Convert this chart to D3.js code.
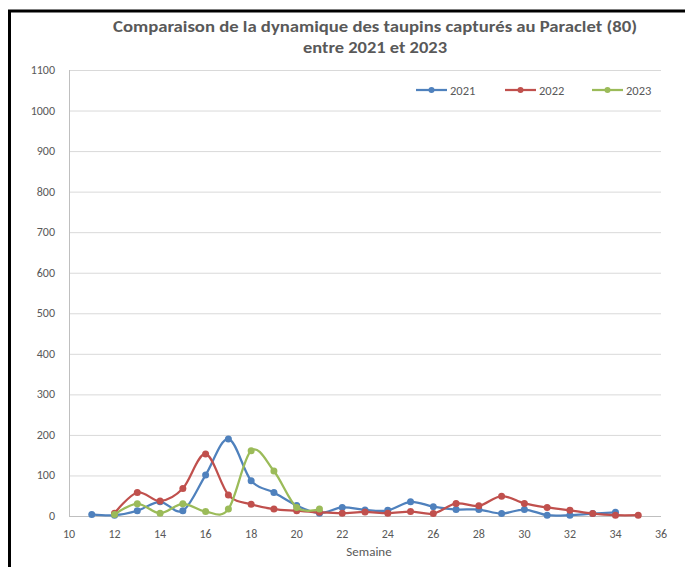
<!DOCTYPE html>
<html><head><meta charset="utf-8">
<script src="https://cdn.jsdelivr.net/npm/d3@7"></script>
<style>body{margin:0;background:#fff}svg{display:block}</style>
</head><body>
<svg id="c" width="685" height="567"></svg>
<script>
const titleLines = ["Comparaison de la dynamique des taupins capturés au Paraclet (80)", "entre 2021 et 2023"];
const xLabel = "Semaine";
const seriesNames = ["2021", "2022", "2023"];
const colors = ["#4F81BD", "#C0504D", "#9BBB59"];
const weeks2021 = [11,12,13,14,15,16,17,18,19,20,21,22,23,24,25,26,27,28,29,30,31,32,33,34];
const values2021 = [4,2,13,35,13,101,190,87,58,26,7,21,15,14,35,23,16,16,6,16,2,2,6,9];
const weeks2022 = [12,13,14,15,16,17,18,19,20,21,22,23,24,25,26,27,28,29,30,31,32,33,34,35];
const values2022 = [7,58,37,68,153,52,29,17,13,9,7,10,7,11,6,31,25,49,31,21,14,6,2,2];
const weeks2023 = [12,13,14,15,16,17,18,19,20,21];
const values2023 = [4,30,7,30,11,17,161,111,21,17];
const xTicks = [10,12,14,16,18,20,22,24,26,28,30,32,34,36];
const yTicks = [0,100,200,300,400,500,600,700,800,900,1000,1100];

const series = [
  {name: seriesNames[0], color: colors[0], pts: weeks2021.map((w,i)=>[w, values2021[i]])},
  {name: seriesNames[1], color: colors[1], pts: weeks2022.map((w,i)=>[w, values2022[i]])},
  {name: seriesNames[2], color: colors[2], pts: weeks2023.map((w,i)=>[w, values2023[i]])}
];

const svg = d3.select("#c");
const font = "Calibri, Carlito, 'Open Sans', sans-serif";
const textCol = "#595959";

// frame
svg.append("path").attr("d","M9.5,567 L9.5,11 L685,11").attr("fill","none").attr("stroke","#000").attr("stroke-width",3);

const x = d3.scaleLinear().domain([10,36]).range([69,661]);
const y = d3.scaleLinear().domain([0,1100]).range([516,70]);

// gridlines
svg.append("g").selectAll("line").data(yTicks.filter(d=>d>0)).join("line")
  .attr("x1",69).attr("x2",661).attr("y1",d=>y(d)+0.5).attr("y2",d=>y(d)+0.5)
  .attr("stroke","#d9d9d9").attr("stroke-width",1);

// axes lines
svg.append("line").attr("x1",69.5).attr("x2",69.5).attr("y1",70).attr("y2",516).attr("stroke","#bfbfbf");
svg.append("line").attr("x1",69).attr("x2",661).attr("y1",516.5).attr("y2",516.5).attr("stroke","#bfbfbf");

// y tick labels
svg.append("g").selectAll("text").data(yTicks).join("text")
  .attr("x",55).attr("y",d=>y(d)+4).attr("text-anchor","end")
  .attr("font-family",font).attr("font-size",12).attr("fill",textCol).text(d=>d);

// x tick labels
svg.append("g").selectAll("text").data(xTicks).join("text")
  .attr("x",d=>x(d)).attr("y",538).attr("text-anchor","middle")
  .attr("font-family",font).attr("font-size",12).attr("fill",textCol).text(d=>d);

svg.append("text").attr("x",369).attr("y",556).attr("text-anchor","middle")
  .attr("font-family",font).attr("font-size",13).attr("fill",textCol).text(xLabel);

// title
svg.append("text").attr("x",375).attr("y",32).attr("text-anchor","middle")
  .attr("font-family",font).attr("font-size",16).attr("font-weight","bold").attr("fill",textCol)
  .attr("textLength",524).attr("lengthAdjust","spacingAndGlyphs").text(titleLines[0]);
svg.append("text").attr("x",375).attr("y",53).attr("text-anchor","middle")
  .attr("font-family",font).attr("font-size",16).attr("font-weight","bold").attr("fill",textCol)
  .attr("textLength",144).attr("lengthAdjust","spacingAndGlyphs").text(titleLines[1]);

// lines
const line = d3.line().x(d=>x(d[0])).y(d=>y(d[1])).curve(d3.curveCardinal.tension(0));
const g = svg.append("g");
series.forEach(s=>{
  g.append("path").datum(s.pts).attr("d",line).attr("fill","none")
    .attr("stroke",s.color).attr("stroke-width",2.25).attr("stroke-linejoin","round");
  g.append("g").selectAll("circle").data(s.pts).join("circle")
    .attr("cx",d=>x(d[0])).attr("cy",d=>y(d[1])).attr("r",3.5).attr("fill",s.color);
});

// legend
const legX = [416, 505, 592];
series.forEach((s,i)=>{
  const lg = svg.append("g");
  lg.append("line").attr("x1",legX[i]).attr("x2",legX[i]+31).attr("y1",90).attr("y2",90)
    .attr("stroke",s.color).attr("stroke-width",2.25);
  lg.append("circle").attr("cx",legX[i]+15.5).attr("cy",90).attr("r",3).attr("fill",s.color);
  lg.append("text").attr("x",legX[i]+34).attr("y",94.5).attr("font-family",font)
    .attr("font-size",12.5).attr("fill",textCol).text(s.name);
});
</script>
</body></html>
